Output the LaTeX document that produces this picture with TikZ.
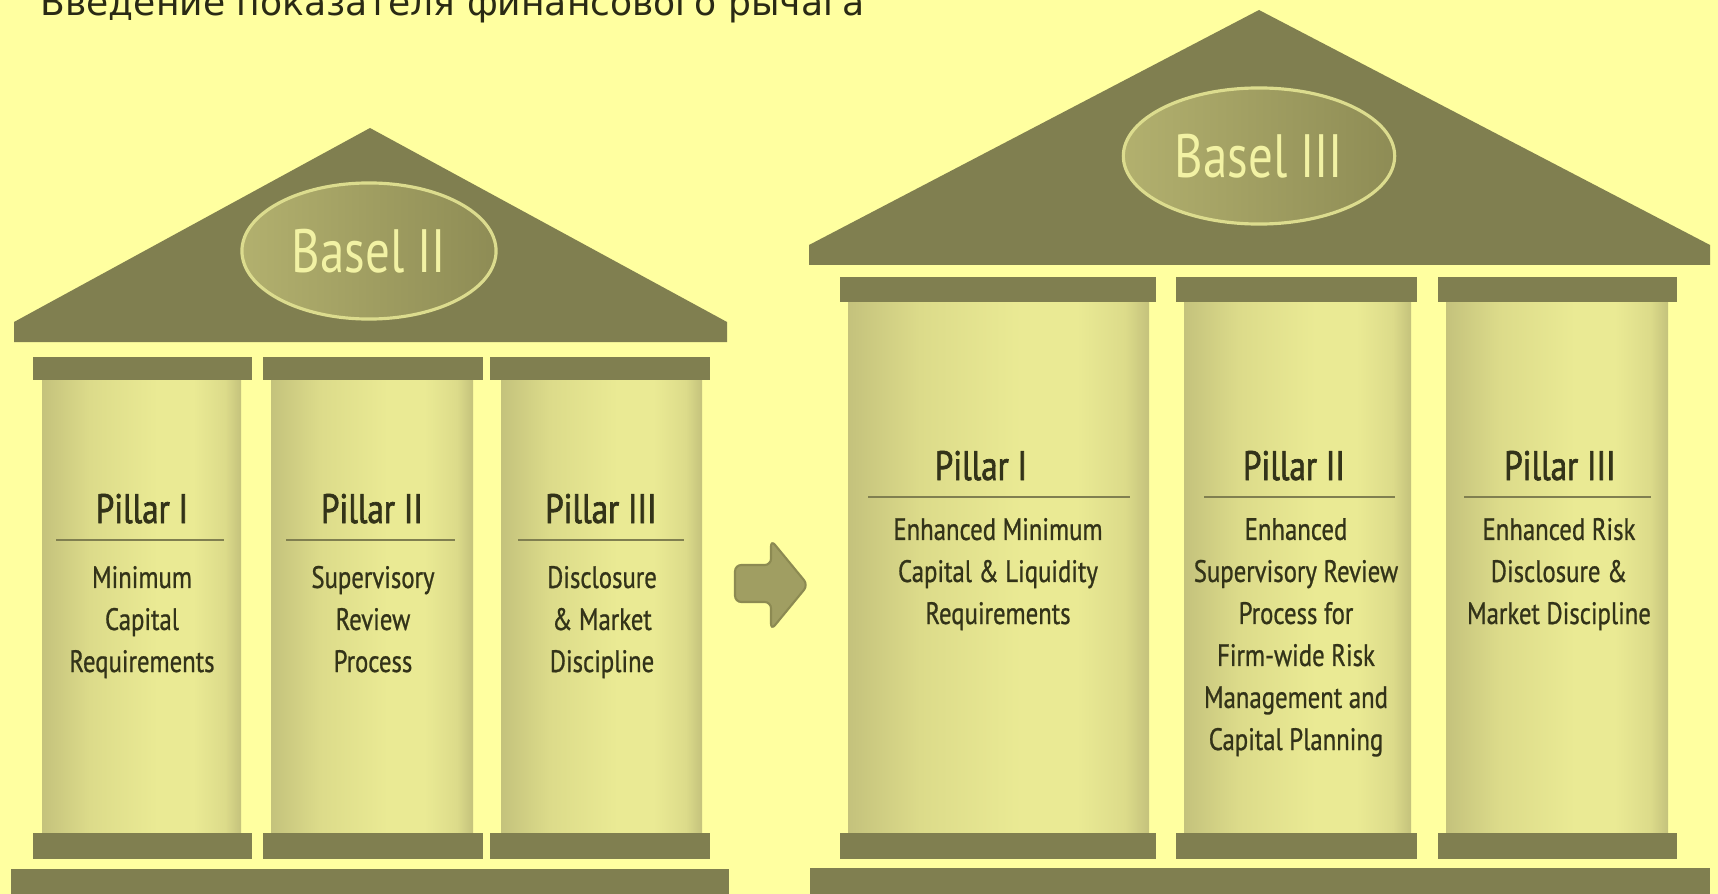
\documentclass[tikz,border=0pt]{standalone}
\usepackage{fontspec}
\setmainfont{DejaVu Sans}
\newfontfamily\narrowfont[FakeStretch=0.8, FakeBold=0.8]{PT Sans}
\newfontfamily\narrowhead[FakeStretch=0.8, FakeBold=1.6]{PT Sans}
\newfontfamily\narrowoval[FakeStretch=0.8]{PT Sans}
\usetikzlibrary{shapes.geometric}

\definecolor{bg}{HTML}{FFFFA0}
\definecolor{olive}{HTML}{807F50}
\definecolor{shaftdk}{HTML}{C4C27C}
\definecolor{shaftmd}{HTML}{DCDB8A}
\definecolor{shaftlt}{HTML}{EAEA94}
\definecolor{ovallt}{HTML}{B2B06E}
\definecolor{ovaldk}{HTML}{8E8C55}
\definecolor{ovalrim}{HTML}{DCDC8E}
\definecolor{ovaltext}{HTML}{F2F2A4}
\definecolor{ink}{HTML}{333319}
\definecolor{titleink}{HTML}{2A2A14}
\definecolor{arrowfill}{HTML}{A09E62}
\definecolor{arrowedge}{HTML}{8C8A52}

% light band a bit right of the middle, darker edges
\pgfdeclarehorizontalshading{shaft}{100bp}{color(0bp)=(shaftdk); color(25bp)=(shaftdk);
  color(37bp)=(shaftmd); color(54bp)=(shaftlt); color(63bp)=(shaftlt);
  color(71bp)=(shaftmd); color(75bp)=(shaftdk); color(100bp)=(shaftdk)}

\begin{document}
\begin{tikzpicture}[x=0.01cm, y=-0.01cm,
        bar/.style={fill=olive},
        rule/.style={draw=olive, line width=0.57pt},
        oval/.style={ellipse, draw=ovalrim, line width=0.9pt, left color=ovallt, right color=ovaldk,
          minimum width=2.54cm, minimum height=1.36cm, text=ovaltext,
          font=\narrowoval\fontsize{17.4}{20}\selectfont}]

        \useasboundingbox (0,0) rectangle (1718,894);
        \fill[bg] (0,0) rectangle (1718,894);

        \node[anchor=base west, inner sep=0, text=titleink, font=\fontsize{10.26}{12}\selectfont]
          (0) at (40,16) {Введение показателя финансового рычага};

        % Basel II
        \fill[bar] (14,342) -- (14,322) -- (370,128) -- (727,322) -- (727,342) -- cycle;
        \fill[bar] (33,357) rectangle (252,380);
        \fill[bar] (263,357) rectangle (483,380);
        \fill[bar] (490,357) rectangle (710,380);
        \shade[shading=shaft] (42,380) rectangle (241,833);
        \shade[shading=shaft] (271,380) rectangle (473,833);
        \shade[shading=shaft] (501,380) rectangle (702,833);
        \fill[bar] (33,833) rectangle (252,859);
        \fill[bar] (263,833) rectangle (483,859);
        \fill[bar] (490,833) rectangle (710,859);
        \fill[bar] (11,869) rectangle (729,894);
        \draw[rule] (56,540) -- (224,540);
        \draw[rule] (286,540) -- (455,540);
        \draw[rule] (518,540) -- (684,540);

        % Basel III
        \fill[bar] (809,265) -- (809,245) -- (1259,10) -- (1710,245) -- (1710,265) -- cycle;
        \fill[bar] (840,277) rectangle (1156,302);
        \fill[bar] (1176,277) rectangle (1417,302);
        \fill[bar] (1438,277) rectangle (1677,302);
        \shade[shading=shaft] (848,302) rectangle (1149,833);
        \shade[shading=shaft] (1184,302) rectangle (1411,833);
        \shade[shading=shaft] (1446,302) rectangle (1668,833);
        \fill[bar] (840,833) rectangle (1156,859);
        \fill[bar] (1176,833) rectangle (1417,859);
        \fill[bar] (1438,833) rectangle (1677,859);
        \fill[bar] (810,868) rectangle (1710,894);
        \draw[rule] (868,497) -- (1130,497);
        \draw[rule] (1204,497) -- (1395,497);
        \draw[rule] (1464,497) -- (1651,497);

        \filldraw[fill=arrowfill, draw=arrowedge, line width=0.6pt, rounded corners=1.8pt]
          (735,565) -- (771,565) -- (771,540) -- (808,585) -- (771,630) -- (771,602) -- (735,602) -- cycle;

        \node[oval] (1) at (369,251) {Basel II};
        \node[oval] (2) at (1259,156) {Basel III};

        \begin{scope}[every node/.style={inner sep=0, anchor=base, text=ink}]

          \begin{scope}[font=\narrowhead\fontsize{11.7}{14}\selectfont]
            \node (3)  at (142,523)  {Pillar I};
            \node (4)  at (372,523)  {Pillar II};
            \node (5)  at (601,523)  {Pillar III};
            \node (6)  at (981,480)  {Pillar I};
            \node (7)  at (1294,480) {Pillar II};
            \node (8)  at (1560,480) {Pillar III};
          \end{scope}

          % base of a multi-line node is its last line
          \begin{scope}[font=\narrowfont\fontsize{8.8}{11.95}\selectfont, align=center]
            \node (9)  at (142,672)  {Minimum\\Capital\\Requirements};
            \node (10) at (373,672)  {Supervisory\\Review\\Process};
            \node (11) at (602,672)  {Disclosure\\\& Market\\Discipline};
            \node (12) at (998,624)  {Enhanced Minimum\\Capital \& Liquidity\\Requirements};
            \node (13) at (1296,750) {Enhanced\\Supervisory Review\\Process for\\Firm-wide Risk\\Management and\\Capital Planning};
            \node (14) at (1559,624) {Enhanced Risk\\Disclosure \&\\Market Discipline};
          \end{scope}
        \end{scope}

      \end{tikzpicture}
\end{document}
